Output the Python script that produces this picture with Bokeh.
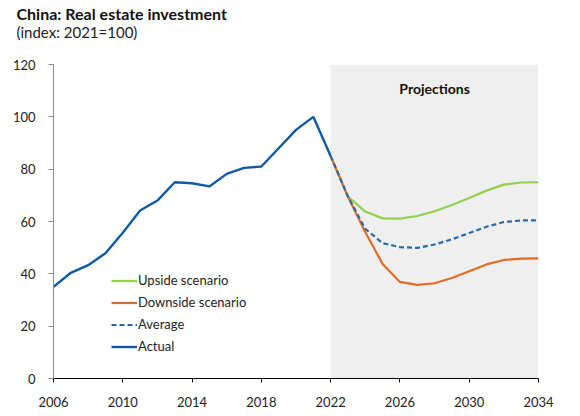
from bokeh.plotting import figure
from bokeh.models import (Range1d, FixedTicker, Label, Legend, LegendItem, BoxAnnotation, Title, LinearAxis)
from bokeh.embed import file_html
from bokeh.resources import INLINE

FONT = "Lato"

actual_years = list(range(2006, 2023))
actual = [35.0, 40.4, 43.3, 47.9, 55.7, 64.2, 68.0, 75.0, 74.6, 73.4, 78.2, 80.5, 81.0, 88.0, 95.0, 100.0, 85.0]

proj_years = list(range(2022, 2035))
upside = [85.0, 69.5, 63.8, 61.2, 61.1, 62.1, 63.9, 66.3, 69.0, 71.8, 74.1, 74.9, 75.0]
downside = [85.0, 69.5, 55.9, 43.8, 36.9, 35.8, 36.4, 38.4, 41.0, 43.6, 45.3, 45.8, 45.9]
average = [85.0, 69.5, 57.2, 51.7, 50.2, 49.9, 51.2, 53.2, 55.6, 58.0, 59.8, 60.4, 60.4]

x_ticks = [2006, 2010, 2014, 2018, 2022, 2026, 2030, 2034]
y_ticks = [0, 20, 40, 60, 80, 100, 120]

title_text = "China: Real estate investment"
subtitle_text = "(index: 2021=100)"
shade_label = "Projections"
series_names = ["Upside scenario", "Downside scenario", "Average", "Actual"]

GREEN = "#92d050"
ORANGE = "#e56a25"
BLUE = "#0f5aa8"
DASHBLUE = "#2a6ab0"

p = figure(width=572, height=410, output_backend="svg", toolbar_location=None,
           title=title_text,
           x_range=Range1d(2006, 2034), y_range=Range1d(0, 120),
           min_border_left=53, min_border_right=34, min_border_top=64, min_border_bottom=32)
p.outline_line_color = None
p.xgrid.visible = False
p.ygrid.visible = False
p.background_fill_color = "white"

xa = p.below[0]
ya = p.left[0]

p.title.text_font = FONT
p.title.text_font_style = "bold"
p.title.text_font_size = "16px"
p.title.text_color = "#111111"
p.title.align = "left"
p.title.offset = -37
p.title.standoff = 0
p.title.vertical_align = "bottom"

sub = Title(text=subtitle_text, text_font=FONT, text_font_style="normal", text_font_size="15px",
            text_color="#222222", align="left", offset=-37, standoff=0, vertical_align="top")

# blank spacer between the subtitle and the plot area (white tick, no labels)
spacer = LinearAxis(ticker=FixedTicker(ticks=[x_ticks[-1]]), axis_line_color=None,
                    major_tick_line_color="#ffffff", minor_tick_line_color=None,
                    major_tick_out=22, major_tick_in=0, minor_tick_out=0, minor_tick_in=0,
                    major_label_standoff=0, major_label_text_color=None,
                    major_label_text_font_size="1px")
p.above = [spacer, sub]

p.add_layout(BoxAnnotation(left=proj_years[0], right=proj_years[-1], fill_color="#efefef",
                           fill_alpha=1.0, line_color=None, level="underlay"))

r_up = p.line(proj_years, upside, line_color=GREEN, line_width=2.2)
r_down = p.line(proj_years, downside, line_color=ORANGE, line_width=2.2)
r_avg = p.line(proj_years, average, line_color=DASHBLUE, line_width=2.2, line_dash="5 3")
r_act = p.line(actual_years, actual, line_color=BLUE, line_width=2.4)

xa.ticker = FixedTicker(ticks=x_ticks)
xa.axis_line_color = "#000000"
xa.axis_line_width = 1.2
xa.major_tick_line_color = "#000000"
xa.major_tick_out = 4
xa.major_tick_in = 0
xa.minor_tick_line_color = None
xa.major_label_standoff = 14
xa.major_label_text_font = FONT
xa.major_label_text_font_size = "13px"
xa.major_label_text_color = "#222222"

ya.ticker = FixedTicker(ticks=y_ticks)
ya.axis_line_color = "#8c8c8c"
ya.major_tick_line_color = "#8c8c8c"
ya.major_tick_out = 5
ya.major_tick_in = 0
ya.minor_tick_line_color = None
ya.major_label_standoff = 13
ya.major_label_text_font = FONT
ya.major_label_text_font_size = "13px"
ya.major_label_text_color = "#222222"

p.add_layout(Label(x=2028, y=110.7, text=shade_label, text_font=FONT, text_font_style="bold",
                   text_font_size="14px", text_align="center", text_baseline="middle",
                   text_color="#111111"))

legend = Legend(items=[LegendItem(label=series_names[0], renderers=[r_up]),
                       LegendItem(label=series_names[1], renderers=[r_down]),
                       LegendItem(label=series_names[2], renderers=[r_avg]),
                       LegendItem(label=series_names[3], renderers=[r_act])],
                location=(58, 24), orientation="vertical",
                glyph_width=26, glyph_height=13, label_height=13, label_standoff=1,
                spacing=6, padding=0, margin=0,
                border_line_alpha=0, background_fill_alpha=0,
                label_text_font=FONT, label_text_font_size="13px", label_text_color="#222222")
p.add_layout(legend)

open("out.html", "w").write(file_html(p, INLINE))
